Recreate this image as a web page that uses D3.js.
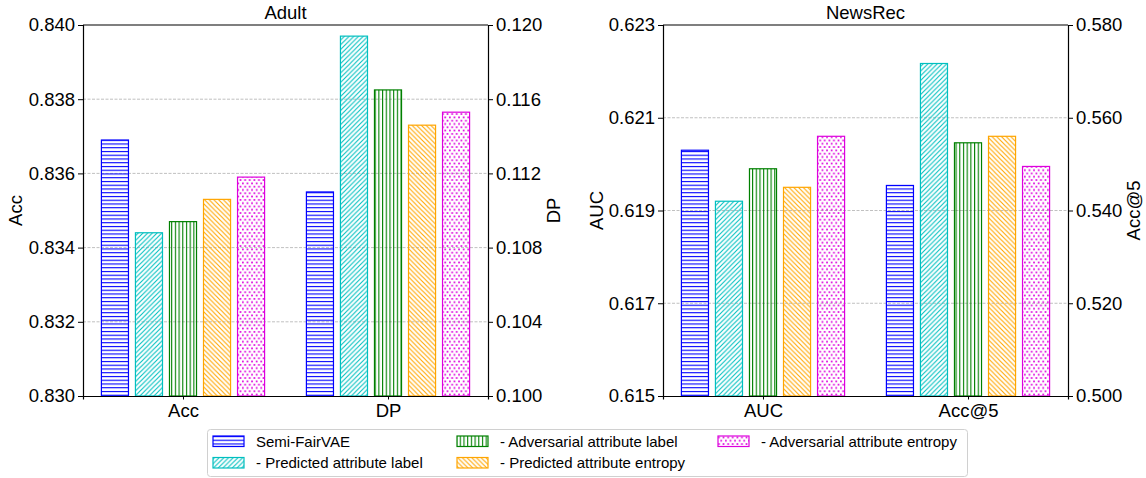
<!DOCTYPE html>
<html>
<head>
<meta charset="utf-8">
<script src="https://cdn.jsdelivr.net/npm/d3@7"></script>
<style>
  body { margin: 0; background: #fff; }
  svg { display: block; font-family: "Liberation Sans", Arial, sans-serif; }
</style>
</head>
<body>
<div id="chart"></div>
<script>
// series (bar order / legend order)
const seriesNames = ["Semi-FairVAE", "- Predicted attribute label", "- Adversarial attribute label",
                     "- Predicted attribute entropy", "- Adversarial attribute entropy"];
const seriesColors = ["#0000ff", "#00bfbf", "#008000", "#ffa500", "#dd00dd"];
const seriesHatch = ["horiz", "diag", "vert", "back", "dots"];

// Adult
const adultGroups = ["Acc", "DP"];
const adultAcc = [0.8369, 0.8344, 0.8347, 0.8353, 0.8359];
const adultDP = [0.1110, 0.1194, 0.1165, 0.1146, 0.1153];
const adultLeftTicks = [0.830, 0.832, 0.834, 0.836, 0.838, 0.840];
const adultRightTicks = [0.100, 0.104, 0.108, 0.112, 0.116, 0.120];

// NewsRec
const newsGroups = ["AUC", "Acc@5"];
const newsAUC = [0.6203, 0.6192, 0.6199, 0.6195, 0.6206];
const newsAcc5 = [0.5454, 0.5717, 0.5546, 0.5560, 0.5495];
const newsLeftTicks = [0.615, 0.617, 0.619, 0.621, 0.623];
const newsRightTicks = [0.500, 0.520, 0.540, 0.560, 0.580];

const W = 1146, H = 478;
const plotTop = 25, plotBottom = 396;
const fmt = d3.format(".3f");
const fontSize = 18.5;

const svg = d3.select("#chart").append("svg")
    .attr("width", W).attr("height", H);

// hatch patterns
const defs = svg.append("defs");
seriesHatch.forEach((h, i) => {
    const c = seriesColors[i];
    let p;
    if (h === "horiz") {
        p = defs.append("pattern").attr("id", "hatch" + i)
            .attr("patternUnits", "userSpaceOnUse").attr("width", 4).attr("height", 3.75);
        p.append("path").attr("d", "M0,1.5H4").attr("stroke", c).attr("stroke-width", 1.1);
    } else if (h === "vert") {
        p = defs.append("pattern").attr("id", "hatch" + i)
            .attr("patternUnits", "userSpaceOnUse").attr("width", 3.7).attr("height", 4);
        p.append("path").attr("d", "M1.5,0V4").attr("stroke", c).attr("stroke-width", 1.1);
    } else if (h === "diag" || h === "back") {
        const s = 4.7;
        p = defs.append("pattern").attr("id", "hatch" + i)
            .attr("patternUnits", "userSpaceOnUse").attr("width", s).attr("height", s);
        const d = h === "diag"
            ? `M-1,1L1,-1M0,${s}L${s},0M${s - 1},${s + 1}L${s + 1},${s - 1}`
            : `M-1,${s - 1}L1,${s + 1}M0,0L${s},${s}M${s - 1},-1L${s + 1},1`;
        p.append("path").attr("d", d).attr("stroke", c).attr("stroke-width", 1.1);
    } else {
        p = defs.append("pattern").attr("id", "hatch" + i)
            .attr("patternUnits", "userSpaceOnUse").attr("width", 4.6).attr("height", 6.6);
        p.append("rect").attr("x", 0.5).attr("y", 1).attr("width", 1.7).attr("height", 1.7).attr("fill", c);
        p.append("rect").attr("x", 2.8).attr("y", 4.3).attr("width", 1.7).attr("height", 1.7).attr("fill", c);
    }
});

const barStep = 0.166, barW = 0.132;

function panel(x0, x1, title, groups, leftVals, rightVals, leftTicks, rightTicks, leftLabel, rightLabel, leftLabelX, rightLabelX) {
    const g = svg.append("g");
    const x = d3.scaleLinear().domain([-0.4878, 1.4878]).range([x0, x1]);
    const yL = d3.scaleLinear().domain(d3.extent(leftTicks)).range([plotBottom, plotTop]);
    const yR = d3.scaleLinear().domain(d3.extent(rightTicks)).range([plotBottom, plotTop]);

    // grid
    g.append("g").selectAll("line")
        .data(leftTicks.slice(1, -1))
        .join("line")
        .attr("x1", x0).attr("x2", x1)
        .attr("y1", d => yL(d)).attr("y2", d => yL(d))
        .attr("stroke", "#b0b0b0").attr("stroke-width", 0.8)
        .attr("stroke-dasharray", "3,1.5");

    // bars
    const bars = [];
    leftVals.forEach((v, i) => bars.push({ grp: 0, i: i, v: v, y: yL }));
    rightVals.forEach((v, i) => bars.push({ grp: 1, i: i, v: v, y: yR }));
    g.append("g").selectAll("rect")
        .data(bars)
        .join("rect")
        .attr("x", d => x(d.grp + (d.i - 2) * barStep - barW / 2))
        .attr("width", x(barW) - x(0))
        .attr("y", d => d.y(d.v))
        .attr("height", d => plotBottom - d.y(d.v))
        .attr("fill", d => `url(#hatch${d.i})`)
        .attr("stroke", d => seriesColors[d.i])
        .attr("stroke-width", 1.2);

    // axes
    const axL = d3.axisLeft(yL).tickValues(leftTicks).tickFormat(fmt).tickSizeOuter(0).tickSize(5).tickPadding(3);
    const axR = d3.axisRight(yR).tickValues(rightTicks).tickFormat(fmt).tickSizeOuter(0).tickSize(5).tickPadding(3);
    const axB = d3.axisBottom(x).tickValues([0, 1]).tickFormat((d, i) => groups[i]).tickSizeOuter(0).tickSize(3.5).tickPadding(4);
    [[axL, `translate(${x0},0)`], [axR, `translate(${x1},0)`], [axB, `translate(0,${plotBottom})`]].forEach(([ax, tr]) => {
        const a = g.append("g").attr("transform", tr).call(ax);
        a.select(".domain").attr("stroke", "#000").attr("stroke-width", 1.2);
        a.selectAll(".tick line").attr("stroke", "#000").attr("stroke-width", 1);
        a.selectAll("text").attr("font-size", fontSize).attr("font-family", "Liberation Sans, Arial, sans-serif").attr("fill", "#000");
    });
    g.append("line").attr("x1", x0).attr("x2", x1).attr("y1", plotTop).attr("y2", plotTop)
        .attr("stroke", "#000").attr("stroke-width", 1.2);

    g.append("text").attr("x", (x0 + x1) / 2).attr("y", 19)
        .attr("text-anchor", "middle").attr("font-size", fontSize).text(title);
    g.append("text").attr("transform", `translate(${leftLabelX},${(plotTop + plotBottom) / 2}) rotate(-90)`)
        .attr("text-anchor", "middle").attr("dy", "0.35em").attr("font-size", fontSize).text(leftLabel);
    g.append("text").attr("transform", `translate(${rightLabelX},${(plotTop + plotBottom) / 2}) rotate(-90)`)
        .attr("text-anchor", "middle").attr("dy", "0.35em").attr("font-size", fontSize).text(rightLabel);
}

panel(83, 488, "Adult", adultGroups, adultAcc, adultDP, adultLeftTicks, adultRightTicks, "Acc", "DP", 16, 554);
panel(663, 1068, "NewsRec", newsGroups, newsAUC, newsAcc5, newsLeftTicks, newsRightTicks, "AUC", "Acc@5", 597, 1134);

// legend
const lg = svg.append("g");
lg.append("rect").attr("x", 207.5).attr("y", 429.5).attr("width", 760).attr("height", 47)
    .attr("rx", 3).attr("fill", "#fff").attr("stroke", "#d0d0d0").attr("stroke-width", 1);
const colX = [213, 457, 718];
const rowY = [436, 457.5];
seriesNames.forEach((name, i) => {
    const cx = colX[Math.floor(i / 2)], ry = rowY[i % 2];
    lg.append("rect").attr("x", cx).attr("y", ry).attr("width", 31).attr("height", 10.5)
        .attr("fill", `url(#hatch${i})`).attr("stroke", seriesColors[i]).attr("stroke-width", 1.2);
    lg.append("text").attr("x", cx + 43).attr("y", ry + 5.5).attr("dy", "0.35em")
        .attr("font-size", 15).text(name);
});
</script>
</body>
</html>
